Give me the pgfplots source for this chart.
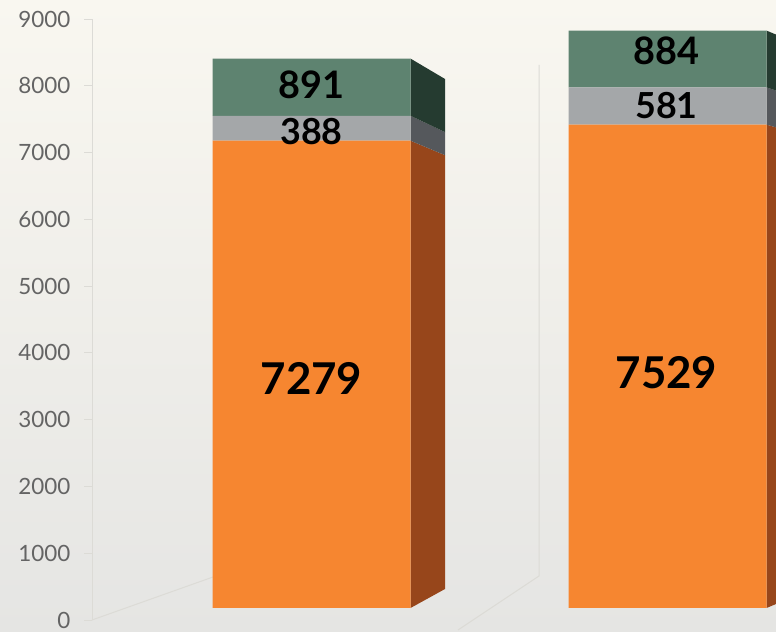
\documentclass[border=0pt]{standalone}
\usepackage{pgfplots}
\pgfplotsset{compat=1.18}
\usepackage{fontspec}
\setmainfont{Lato}
\definecolor{bgtop}{HTML}{F9F7F0}
\definecolor{bgbot}{HTML}{E5E5E3}
\definecolor{wall}{HTML}{DCDBD6}
\definecolor{ticktext}{HTML}{646464}
\definecolor{orfront}{HTML}{F68630}
\definecolor{orside}{HTML}{97461B}
\definecolor{grfront}{HTML}{A4A7A9}
\definecolor{grside}{HTML}{55585C}
\definecolor{gnfront}{HTML}{5E8370}
\definecolor{gnside}{HTML}{253B30}

\pgfplotsset{
  baraxis/.style={at={(0bp,24bp)},anchor=south west,scale only axis,
    width=776bp,height=577.8bp,xmin=0,xmax=776,ymin=0,ymax=9000,hide axis},
  lbl/.style={draw=none,mark=none,nodes near coords,point meta=explicit symbolic,
    every node near coord/.style={anchor=center,text=black,font=\bfseries\fontsize{#1}{#1}\selectfont}}
}

\begin{document}
\begin{tikzpicture}
\shade[top color=bgtop,bottom color=bgbot] (0bp,0bp) rectangle (776bp,632bp);
% back wall and floor edges
\draw[wall,line width=1bp] (539bp,567bp) -- (539bp,56bp) -- (458bp,2bp);
\draw[wall,line width=1bp] (92bp,12bp) -- (213bp,55bp);

% value axis
\begin{axis}[at={(92bp,12bp)},anchor=south west,scale only axis,
  width=684bp,height=601bp,xmin=0,xmax=1,ymin=0,ymax=9000,
  axis x line=none,axis y line*=left,
  ytick={0,1000,...,9000},tick align=outside,major tick length=8bp,
  y axis line style={wall,line width=1bp},ytick style={wall,line width=1bp},
  /pgf/number format/assume math mode=true,scaled y ticks=false,
  yticklabel style={/pgf/number format/1000 sep={},text=ticktext,
    font=\fontsize{22.5}{22.5}\selectfont,anchor=east,xshift=-10bp}]
\end{axis}

% side faces
\begin{axis}[baraxis]
\addplot[fill=orside,draw=none] coordinates {(410.5,0) (445,296) (445,7053) (410.5,7279)};
\addplot[fill=grside,draw=none] coordinates {(410.5,7279) (445,7053) (445,7413) (410.5,7667)};
\addplot[fill=gnside,draw=none] coordinates {(410.5,7667) (445,7413) (445,8240) (410.5,8558)};
\addplot[fill=orside,draw=none] coordinates {(766.5,0) (776,62) (776,7487) (766.5,7529)};
\addplot[fill=grside,draw=none] coordinates {(766.5,7529) (776,7487) (776,8060) (766.5,8110)};
\addplot[fill=gnside,draw=none] coordinates {(766.5,8110) (776,8060) (776,8932) (766.5,8994)};
\end{axis}

% stacked front faces
\begin{axis}[baraxis,ybar stacked,bar width=198]
\addplot[fill=orfront,draw=none] coordinates {(311.5,7279) (667.5,7529)};
\addplot[fill=grfront,draw=none] coordinates {(311.5,388) (667.5,581)};
\addplot[fill=gnfront,draw=none] coordinates {(311.5,891) (667.5,884)};
\end{axis}

% value labels
\begin{axis}[baraxis]
\addplot[lbl=44] coordinates {(311.5,3575)[7279] (666.5,3668)[7529]};
\addplot[lbl=36] coordinates {(311.5,7422)[388] (666.5,7827)[581]};
\addplot[lbl=38] coordinates {(311.5,8154)[891] (666.5,8676)[884]};
\end{axis}
\end{tikzpicture}
\end{document}
